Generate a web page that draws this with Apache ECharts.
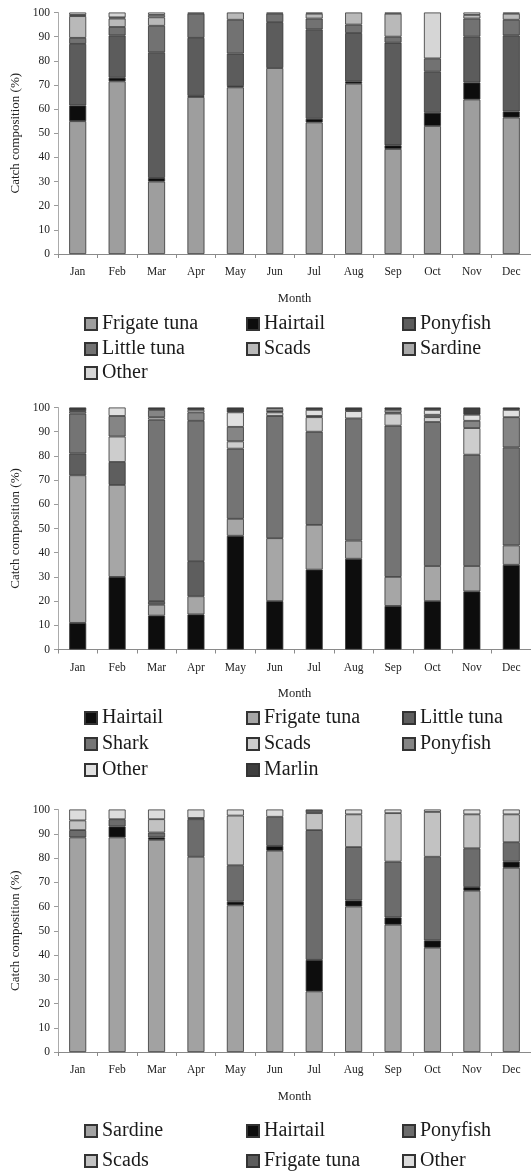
<!DOCTYPE html>
<html>
<head>
<meta charset="utf-8">
<script src="https://cdn.jsdelivr.net/npm/echarts@6/dist/echarts.min.js"></script>
<style>
html,body{margin:0;padding:0;background:#fff;}
#c{width:531px;height:1174px;}
</style>
</head>
<body>
<div id="c"></div>
<script>
var months = ['Jan','Feb','Mar','Apr','May','Jun','Jul','Aug','Sep','Oct','Nov','Dec'];
var yTicks = [0,10,20,30,40,50,60,70,80,90,100];

// Panel 1
var p1FrigateTuna = [55, 71.5, 30, 65, 69, 77, 54.5, 70.5, 43.5, 53, 64, 56.5];
var p1Hairtail    = [6.5, 1.5, 1.5, 0.5, 0.5, 0, 1.5, 1, 1.5, 5.5, 7, 2.5];
var p1Ponyfish    = [25.5, 17.5, 52, 24, 13.5, 19, 37, 20, 42.5, 17, 19, 31.5];
var p1LittleTuna  = [2.5, 3.5, 11, 10, 14, 3.5, 4.5, 3.5, 2.5, 5.5, 7.5, 6.5];
var p1Scads       = [9, 3.5, 3.5, 0, 3, 0, 2, 5, 9.5, 0, 1.5, 2.5];
var p1Sardine     = [0.5, 0.5, 1, 0, 0, 0, 0, 0, 0, 0, 0, 0];
var p1Other       = [1, 2, 1, 0.5, 0, 0.5, 0.5, 0, 0.5, 19, 1, 0.5];

// Panel 2
var p2Hairtail    = [11, 30, 14, 14.5, 47, 20, 33, 37.5, 18, 20, 24, 35];
var p2FrigateTuna = [61, 38, 4.5, 7.5, 7, 26, 18.5, 7.5, 12, 14.5, 10.5, 8];
var p2LittleTuna  = [9, 9.5, 1.5, 14.5, 0, 0, 0, 0, 0, 0, 0, 0];
var p2Shark       = [16.5, 0, 75, 58, 29, 50.5, 38.5, 50.5, 62.5, 59.5, 46, 40.5];
var p2Scads       = [0, 10.5, 1, 0, 3, 1.5, 6, 0, 5, 2, 11, 0];
var p2Ponyfish    = [1, 8.5, 3, 3.5, 6, 0.5, 0.5, 0, 0.5, 1, 3, 12.5];
var p2Other       = [0, 3.5, 0, 1, 6, 1, 2.5, 3, 1, 2, 2.5, 3];
var p2Marlin      = [1.5, 0, 1, 1, 2, 0.5, 1, 1.5, 1, 1, 3, 1];

// Panel 3
var p3Sardine     = [88.5, 88.5, 87.5, 80.5, 60.5, 83, 25, 60, 52.5, 43, 66.5, 76];
var p3Hairtail    = [0, 4.5, 1, 0, 1.5, 2, 13, 2.5, 3, 3, 1.5, 2.5];
var p3Ponyfish    = [3, 3, 2, 15.5, 15, 12, 53.5, 22, 23, 34.5, 16, 8];
var p3Scads       = [4, 0, 5.5, 0.5, 20.5, 0, 7, 13.5, 20, 18.5, 14, 11.5];
var p3FrigateTuna = [0, 0, 0, 0, 0, 0, 1.5, 0, 0, 0, 0, 0];
var p3Other       = [4.5, 4, 4, 3.5, 2.5, 3, 0, 2, 1.5, 1, 2, 2];

var FONT = 'Liberation Serif';

var panels = [
  { top: 12.5, height: 241.5, legendRows: [314, 339, 363],
    series: [
      ['Frigate tuna', p1FrigateTuna, '#9e9e9e'],
      ['Hairtail', p1Hairtail, '#0d0d0d'],
      ['Ponyfish', p1Ponyfish, '#5c5c5c'],
      ['Little tuna', p1LittleTuna, '#727272'],
      ['Scads', p1Scads, '#b9b9b9'],
      ['Sardine', p1Sardine, '#a9a9a9'],
      ['Other', p1Other, '#d6d6d6']
    ]},
  { top: 407.5, height: 242, legendRows: [708, 734, 760],
    series: [
      ['Hairtail', p2Hairtail, '#0d0d0d'],
      ['Frigate tuna', p2FrigateTuna, '#a6a6a6'],
      ['Little tuna', p2LittleTuna, '#5e5e5e'],
      ['Shark', p2Shark, '#747474'],
      ['Scads', p2Scads, '#cdcdcd'],
      ['Ponyfish', p2Ponyfish, '#858585'],
      ['Other', p2Other, '#e0e0e0'],
      ['Marlin', p2Marlin, '#3e3e3e']
    ]},
  { top: 809.5, height: 242.5, legendRows: [1121, 1151],
    series: [
      ['Sardine', p3Sardine, '#a2a2a2'],
      ['Hairtail', p3Hairtail, '#0d0d0d'],
      ['Ponyfish', p3Ponyfish, '#6c6c6c'],
      ['Scads', p3Scads, '#c2c2c2'],
      ['Frigate tuna', p3FrigateTuna, '#5c5c5c'],
      ['Other', p3Other, '#dcdcdc']
    ]}
];

var legendCols = [84, 246, 402];
var option = {
  backgroundColor: '#fff',
  animation: false,
  grid: [], xAxis: [], yAxis: [], series: [], legend: []
};

panels.forEach(function (p, pi) {
  option.grid.push({ left: 58, right: 0, top: p.top, height: p.height, containLabel: false });
  option.xAxis.push({
    type: 'category', gridIndex: pi, data: months,
    name: 'Month', nameLocation: 'middle', nameGap: 38,
    nameTextStyle: { fontFamily: FONT, fontSize: 12.5, color: '#222' },
    axisLine: { lineStyle: { color: '#8a8a8a', width: 1 } },
    axisTick: { show: true, length: 4, lineStyle: { color: '#8a8a8a' } },
    axisLabel: { fontFamily: FONT, fontSize: 11.5, color: '#222', margin: 12 }
  });
  option.yAxis.push({
    type: 'value', gridIndex: pi, min: 0, max: 100, interval: 10,
    name: 'Catch composition (%)', nameLocation: 'middle', nameGap: 35,
    nameTextStyle: { fontFamily: FONT, fontSize: 13, color: '#222' },
    axisLine: { show: true, lineStyle: { color: '#ababab', width: 1 } },
    axisTick: { show: true, length: 4, lineStyle: { color: '#9a9a9a' } },
    axisLabel: { fontFamily: FONT, fontSize: 11.5, color: '#222', margin: 8,
      formatter: function (v) { return yTicks.indexOf(v) >= 0 ? String(v) : ''; } },
    splitLine: { show: false }
  });
  p.series.forEach(function (s, si) {
    var id = 'p' + (pi + 1) + '|' + s[0];
    option.series.push({
      name: id, type: 'bar', stack: 'p' + pi,
      xAxisIndex: pi, yAxisIndex: pi,
      barWidth: 17,
      data: s[1].map(function (v) { return v === 0 ? null : v; }),
      itemStyle: { color: s[2], borderColor: '#333', borderWidth: 0.8 }
    });
    var row = Math.floor(si / 3), col = si % 3;
    option.legend.push({
      data: [{ name: id, icon: 'rect' }],
      left: legendCols[col], top: p.legendRows[row],
      padding: 0, itemWidth: 12, itemHeight: 12, itemGap: 0,
      selectedMode: false,
      formatter: function (n) { return n.split('|')[1]; },
      textStyle: { fontFamily: FONT, fontSize: 20, color: '#1a1a1a', padding: [0, 0, 0, 0] }
    });
  });
});

var chart = echarts.init(document.getElementById('c'), null, { renderer: 'canvas' });
chart.setOption(option);
</script>
</body>
</html>
